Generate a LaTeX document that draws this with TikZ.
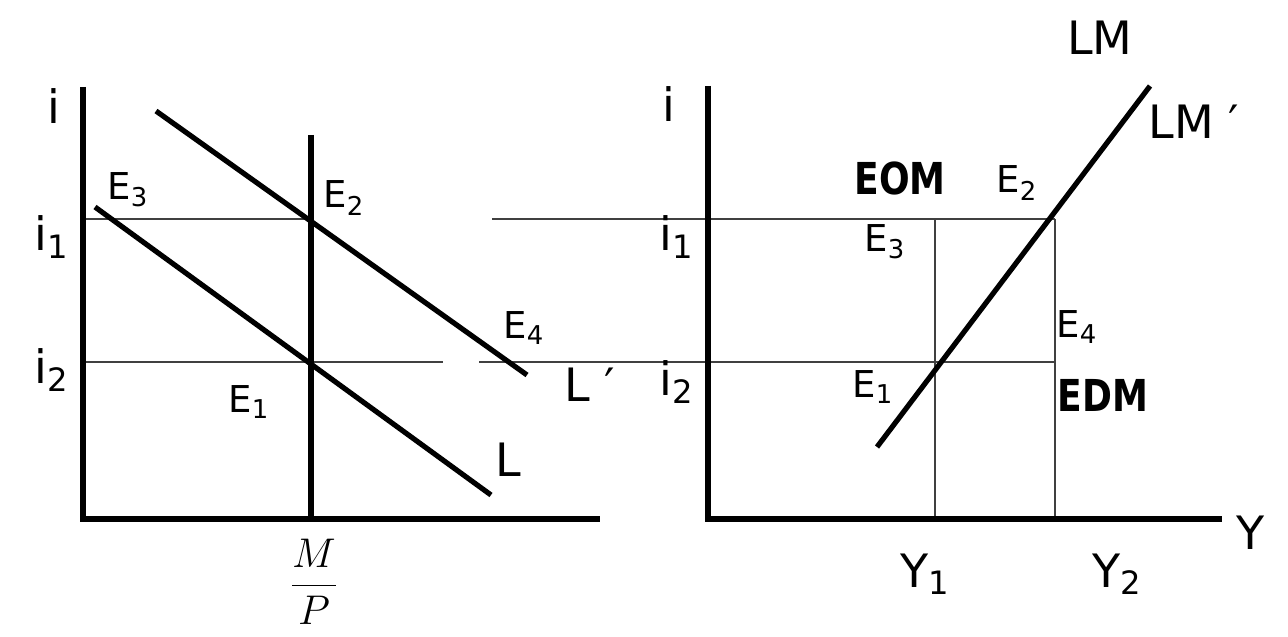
\documentclass[tikz,border=0pt]{standalone}
\usepackage{graphicx}
\usepackage{fontspec}
\setmainfont{DejaVu Sans}
\definecolor{CurveLine}{HTML}{000000}
\definecolor{GuideLine}{HTML}{404040}
\newcommand{\narrowtext}[1]{\scalebox{0.82}[1]{#1}}

\begin{document}
\begin{tikzpicture}[x=0.5pt,y=-0.5pt,
    axis/.style={CurveLine,line width=2.6pt},
    curve/.style={CurveLine,line width=2.6pt},
    guide/.style={GuideLine,line width=0.75pt},
    lab/.style={inner sep=0pt,font=\fontsize{18.5}{20}\selectfont},
    biglab/.style={inner sep=0pt,font=\fontsize{23}{26}\selectfont},
    boldlab/.style={inner sep=0pt,font=\fontsize{22}{24}\selectfont\bfseries}]
  \useasboundingbox (0,0) rectangle (1288,636);
  % money market
  \coordinate (o1) at (83,519);
  \coordinate (mp) at (311,519);
  \coordinate (ia) at (311,219);
  \coordinate (ib) at (311,362);
  \draw[guide] (83,219) -- (ia);
  \draw[guide] (83,362) -- (443,362);
  \draw[guide] (479,362) -- (1055,362);
  \draw[guide] (492,219) -- (1055,219);
  \draw[axis] (83,87) -- (o1) -- (600,519);
  \draw[axis] (311,135) -- (mp);
  \draw[curve] (156,111) -- (527,375);
  \draw[curve] (95,207) -- (491,495);
  \node[biglab] (iL) at (54,106) {i};
  \node[biglab] (i1L) at (52,237) {i\textsubscript{1}};
  \node[biglab] (i2L) at (52,370) {i\textsubscript{2}};
  \node[lab] (e3L) at (128,190) {E\textsubscript{3}};
  \node[lab] (e2L) at (344,198) {E\textsubscript{2}};
  \node[lab] (e4L) at (524,328) {E\textsubscript{4}};
  \node[lab] (e1L) at (249,402) {E\textsubscript{1}};
  \node[biglab] (lL) at (508,460) {L};
  \node[biglab] (lpL) at (590,385) {L ′};
  \node[inner sep=0pt,font=\fontsize{19.5}{22}\selectfont] (mpL) at (314,582) {$\displaystyle\frac{M}{P}$};
  % goods market
  \coordinate (o2) at (708,519);
  \coordinate (y1) at (935,519);
  \coordinate (y2) at (1055,519);
  \draw[guide] (935,219) -- (y1);
  \draw[guide] (1055,219) -- (y2);
  \draw[axis] (708,86) -- (o2) -- (1222,519);
  \draw[curve] (877,447) -- (1150,86);
  \node[biglab] (iR) at (669,104) {i};
  \node[biglab] (i1R) at (677,237) {i\textsubscript{1}};
  \node[biglab] (i2R) at (677,382) {i\textsubscript{2}};
  \node[biglab] (yR) at (1251,533) {Y};
  \node[biglab] (y1L) at (925,574) {Y\textsubscript{1}};
  \node[biglab] (y2L) at (1117,574) {Y\textsubscript{2}};
  \node[biglab] (lm) at (1100,38) {LM};
  \node[biglab] (lmp) at (1194,122) {LM ′};
  \node[boldlab] (eom) at (900,178) {\narrowtext{EOM}};
  \node[boldlab] (edm) at (1103,395) {\narrowtext{EDM}};
  \node[lab] (e2R) at (1017,183) {E\textsubscript{2}};
  \node[lab] (e3R) at (885,242) {E\textsubscript{3}};
  \node[lab] (e4R) at (1077,327) {E\textsubscript{4}};
  \node[lab] (e1R) at (873,387) {E\textsubscript{1}};
\end{tikzpicture}
\end{document}
